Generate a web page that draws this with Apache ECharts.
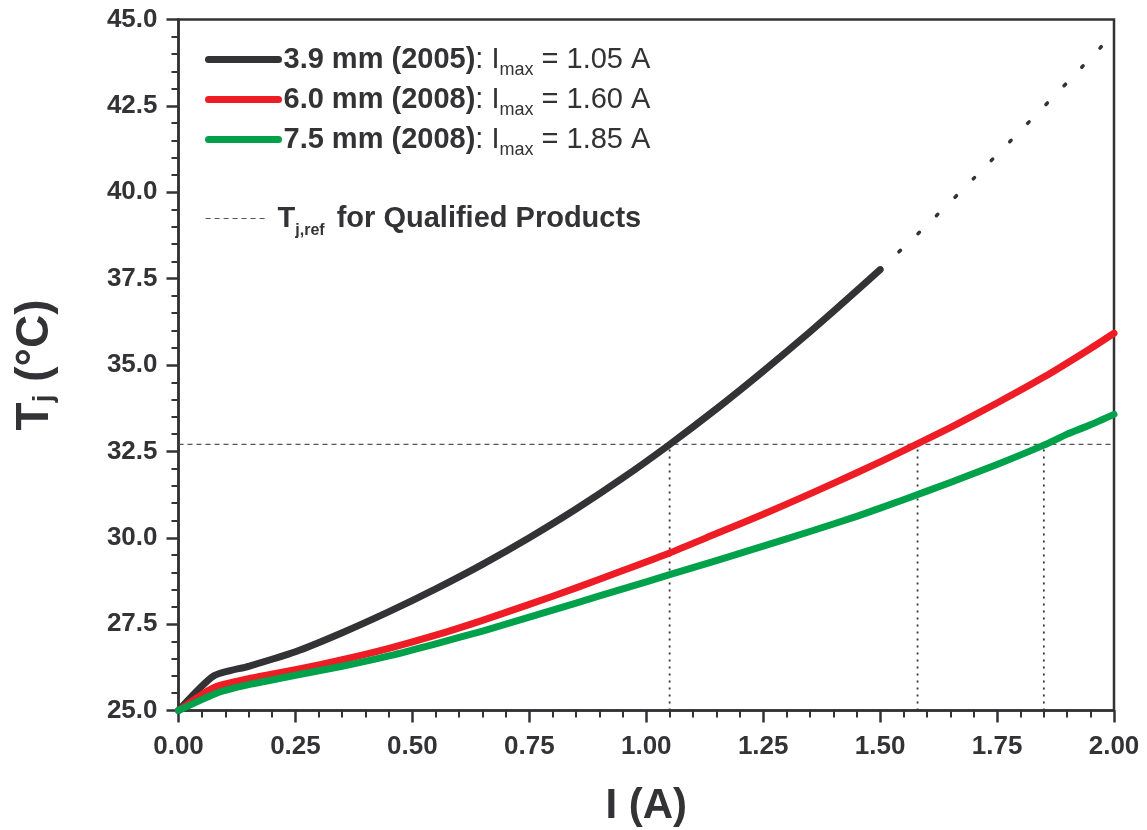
<!DOCTYPE html>
<html><head><meta charset="utf-8">
<script src="https://cdn.jsdelivr.net/npm/echarts@6/dist/echarts.min.js"></script>
<style>html,body{margin:0;padding:0;background:#fff}#c{width:1147px;height:830px}</style>
</head><body><div id="c"></div>
<script>
const FONT = '"Liberation Sans", Arial, Helvetica, sans-serif';
const TXT = '#333336';

// Series labels
const seriesNames = ['3.9 mm (2005)', '6.0 mm (2008)', '7.5 mm (2008)'];
const imaxLabels = ['1.05', '1.60', '1.85'];
const refName = 'Tj,ref for Qualified Products';

// 3.9 mm (2005), measured part
const blackI = [0, 0.075, 0.15, 0.25, 0.35, 0.45, 0.55, 0.65, 0.75, 0.85, 0.95, 1.05, 1.15, 1.25, 1.35, 1.45, 1.50];
const blackT = [25.0, 26.0, 26.28, 26.70, 27.25, 27.86, 28.52, 29.23, 30.00, 30.83, 31.73, 32.70, 33.73, 34.82, 35.96, 37.15, 37.76];
// 3.9 mm extrapolated (dotted)
const blackExtI = [1.50, 1.60, 1.70, 1.80, 1.90, 2.00];
const blackExtT = [37.76, 39.05, 40.40, 41.78, 43.18, 44.60];
// 6.0 mm (2008)
const redI = [0, 0.075, 0.15, 0.25, 0.35, 0.45, 0.55, 0.65, 0.75, 0.85, 0.95, 1.05, 1.15, 1.25, 1.35, 1.45, 1.55, 1.65, 1.75, 1.85, 1.95, 2.00];
const redT = [25.0, 25.66, 25.92, 26.18, 26.47, 26.80, 27.18, 27.61, 28.07, 28.55, 29.05, 29.56, 30.12, 30.68, 31.27, 31.88, 32.52, 33.19, 33.90, 34.65, 35.48, 35.92];
// 7.5 mm (2008)
const greenI = [0, 0.085, 0.15, 0.25, 0.35, 0.45, 0.55, 0.65, 0.75, 0.85, 0.95, 1.05, 1.15, 1.25, 1.35, 1.45, 1.55, 1.65, 1.75, 1.85, 1.90, 1.95, 2.00];
const greenT = [25.0, 25.52, 25.75, 26.02, 26.28, 26.58, 26.93, 27.30, 27.70, 28.11, 28.52, 28.93, 29.34, 29.76, 30.18, 30.62, 31.10, 31.60, 32.12, 32.68, 33.00, 33.27, 33.57];

// Reference temperature and I_max drop lines
const tRef = 32.7;
const refI = [0, 2.0];
const dropI = [1.05, 1.58, 1.85];

const zip = (a, b) => a.map((v, i) => [v, b[i]]);

const chart = echarts.init(document.getElementById('c'), null, {renderer: 'canvas'});

const mainLine = (name, I, T, color) => ({
  name, type: 'line', data: zip(I, T), symbol: 'none', smooth: 0.2,
  lineStyle: {color, width: 7, cap: 'round', join: 'round'},
  itemStyle: {color}, z: 5
});

const series = [
  mainLine(seriesNames[0], blackI, blackT, '#333336'),
  {
    name: 'extrapolation', type: 'line', data: zip(blackExtI, blackExtT), symbol: 'none', smooth: 0.2,
    lineStyle: {color: '#333336', width: 3.5, type: [2, 24], cap: 'round'}, z: 4
  },
  mainLine(seriesNames[1], redI, redT, '#ee1c25'),
  mainLine(seriesNames[2], greenI, greenT, '#00a14b'),
  {
    name: refName, type: 'line', data: refI.map(v => [v, tRef]), symbol: 'none',
    lineStyle: {color: '#555', width: 1.2, type: [5, 4]}, itemStyle: {color: '#555'}, z: 3
  }
];
dropI.forEach((v, k) => series.push({
  name: 'drop' + k, type: 'line', data: [[v, 25], [v, tRef]], symbol: 'none',
  lineStyle: {color: '#333', width: 1.8, type: [2, 5]}, z: 3
}));

const axisCommon = {
  axisLine: {show: true, onZero: false, lineStyle: {color: '#333336', width: 2.5}},
  axisTick: {show: true, inside: false, length: 12, lineStyle: {color: '#333336', width: 2.5}},
  minorTick: {show: true, splitNumber: 5, length: 7, lineStyle: {color: '#333336', width: 2}},
  splitLine: {show: false},
  minorSplitLine: {show: false}
};

const legendRich = {
  b: {fontFamily: FONT, fontSize: 29, fontWeight: 'bold', color: TXT, lineHeight: 40},
  n: {fontFamily: FONT, fontSize: 29, color: TXT, lineHeight: 40},
  s: {fontFamily: FONT, fontSize: 18, color: TXT, lineHeight: 18, verticalAlign: 'bottom'}
};
const rowTops = [45, 85, 125];
const seriesLegends = seriesNames.map((nm, i) => ({
  data: [nm], orient: 'vertical', left: 205, top: rowTops[i], padding: 0,
  itemWidth: 70, itemHeight: 8,
  lineStyle: {width: 7, cap: 'round'},
  itemStyle: {opacity: 0},
  formatter: name => '{b|' + name + '}{n|: I}{s|max}{n| = ' + imaxLabels[seriesNames.indexOf(name)] + ' A}',
  textStyle: {fontFamily: FONT, color: TXT, rich: legendRich},
  selectedMode: false
}));

const option = {
  backgroundColor: '#fff',
  animation: false,
  textStyle: {fontFamily: FONT},
  grid: {left: 178.5, right: 33, top: 19.5, bottom: 119.5, show: true, borderColor: '#333336', borderWidth: 2.5,
    containLabel: false, outerBoundsMode: 'none'},
  xAxis: Object.assign({
    type: 'value', min: 0, max: 2, interval: 0.25,
    name: 'I (A)', nameLocation: 'middle', nameGap: 75,
    nameTextStyle: {fontFamily: FONT, fontSize: 42, fontWeight: 'bold', color: TXT},
    axisLabel: {margin: 23, fontFamily: FONT, fontSize: 26, fontWeight: 'bold', color: TXT, formatter: v => v.toFixed(2)}
  }, axisCommon),
  yAxis: Object.assign({
    type: 'value', min: 25, max: 45, interval: 2.5,
    name: 'T{sub|j} (°C)', nameLocation: 'middle', nameGap: 120, nameRotate: 90,
    nameTextStyle: {fontFamily: FONT, fontSize: 46, fontWeight: 'bold', color: TXT,
      rich: {sub: {fontFamily: FONT, fontSize: 28, fontWeight: 'bold', color: TXT, verticalAlign: 'bottom', lineHeight: 28}}},
    axisLabel: {margin: 21, fontFamily: FONT, fontSize: 26, fontWeight: 'bold', color: TXT, formatter: v => v.toFixed(1)}
  }, axisCommon),
  legend: seriesLegends.concat([
    {
      data: [refName], orient: 'vertical', left: 205, top: 204, padding: 0,
      itemWidth: 63, itemHeight: 8,
      lineStyle: {width: 1.2, type: [5, 4]},
      itemStyle: {opacity: 0},
      formatter: () => '{b|T}{s|j,ref}{b| for Qualified Products}',
      textStyle: {
        fontFamily: FONT, color: TXT,
        rich: {
          b: {fontFamily: FONT, fontSize: 29, fontWeight: 'bold', color: TXT, lineHeight: 40, padding: [0, 0, 0, 4]},
          s: {fontFamily: FONT, fontSize: 16, fontWeight: 'bold', color: TXT, lineHeight: 16, verticalAlign: 'bottom'}
        }
      },
      selectedMode: false
    }
  ]),
  series
};
chart.setOption(option);
</script>
</body></html>
